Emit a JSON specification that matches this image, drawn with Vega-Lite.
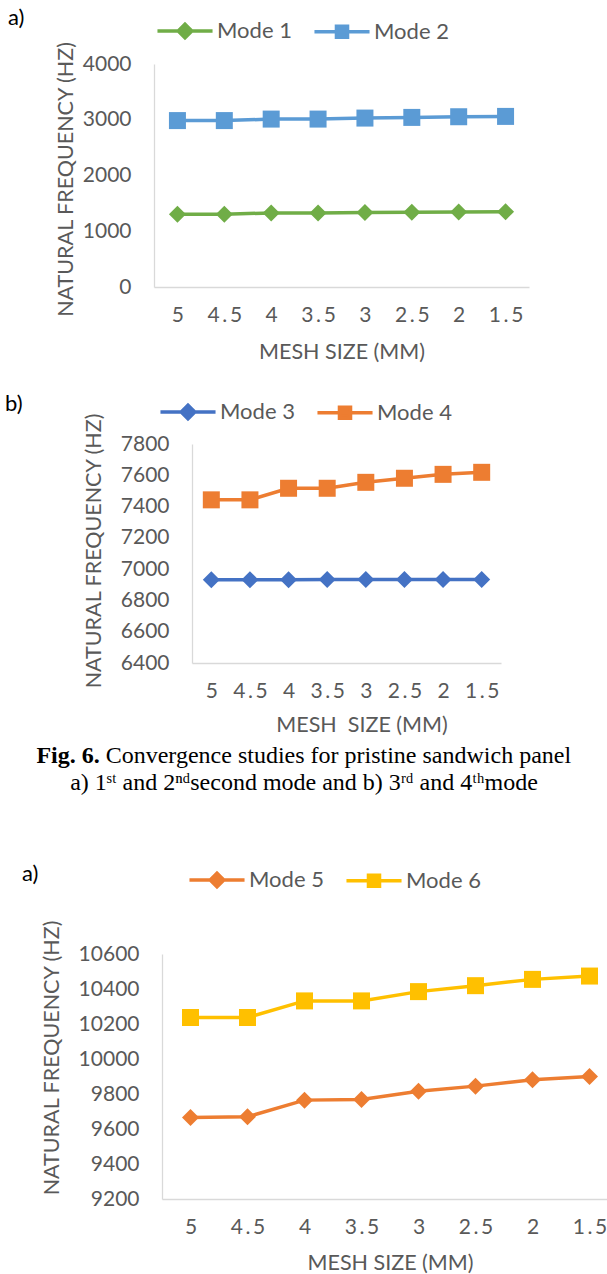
{
  "$schema": "https://vega.github.io/schema/vega-lite/v6.json",
  "padding": {"left": 4, "top": 7, "right": 0, "bottom": 0},
  "datasets": {
    "a": [
      {"mesh": "5", "mode": "Mode 1", "freq": 1305}, {"mesh": "4.5", "mode": "Mode 1", "freq": 1305},
      {"mesh": "4", "mode": "Mode 1", "freq": 1329}, {"mesh": "3.5", "mode": "Mode 1", "freq": 1329},
      {"mesh": "3", "mode": "Mode 1", "freq": 1335}, {"mesh": "2.5", "mode": "Mode 1", "freq": 1341},
      {"mesh": "2", "mode": "Mode 1", "freq": 1347}, {"mesh": "1.5", "mode": "Mode 1", "freq": 1350},
      {"mesh": "5", "mode": "Mode 2", "freq": 2985}, {"mesh": "4.5", "mode": "Mode 2", "freq": 2985},
      {"mesh": "4", "mode": "Mode 2", "freq": 3012}, {"mesh": "3.5", "mode": "Mode 2", "freq": 3012},
      {"mesh": "3", "mode": "Mode 2", "freq": 3030}, {"mesh": "2.5", "mode": "Mode 2", "freq": 3042},
      {"mesh": "2", "mode": "Mode 2", "freq": 3054}, {"mesh": "1.5", "mode": "Mode 2", "freq": 3060}
    ],
    "b": [
      {"mesh": "5", "mode": "Mode 3", "freq": 6932}, {"mesh": "4.5", "mode": "Mode 3", "freq": 6932},
      {"mesh": "4", "mode": "Mode 3", "freq": 6932}, {"mesh": "3.5", "mode": "Mode 3", "freq": 6933},
      {"mesh": "3", "mode": "Mode 3", "freq": 6933}, {"mesh": "2.5", "mode": "Mode 3", "freq": 6933},
      {"mesh": "2", "mode": "Mode 3", "freq": 6933}, {"mesh": "1.5", "mode": "Mode 3", "freq": 6933},
      {"mesh": "5", "mode": "Mode 4", "freq": 7443}, {"mesh": "4.5", "mode": "Mode 4", "freq": 7443},
      {"mesh": "4", "mode": "Mode 4", "freq": 7517}, {"mesh": "3.5", "mode": "Mode 4", "freq": 7517},
      {"mesh": "3", "mode": "Mode 4", "freq": 7555}, {"mesh": "2.5", "mode": "Mode 4", "freq": 7581},
      {"mesh": "2", "mode": "Mode 4", "freq": 7606}, {"mesh": "1.5", "mode": "Mode 4", "freq": 7619}
    ],
    "c": [
      {"mesh": "5", "mode": "Mode 5", "freq": 9666}, {"mesh": "4.5", "mode": "Mode 5", "freq": 9670},
      {"mesh": "4", "mode": "Mode 5", "freq": 9765}, {"mesh": "3.5", "mode": "Mode 5", "freq": 9769},
      {"mesh": "3", "mode": "Mode 5", "freq": 9816}, {"mesh": "2.5", "mode": "Mode 5", "freq": 9845},
      {"mesh": "2", "mode": "Mode 5", "freq": 9881}, {"mesh": "1.5", "mode": "Mode 5", "freq": 9900},
      {"mesh": "5", "mode": "Mode 6", "freq": 10237}, {"mesh": "4.5", "mode": "Mode 6", "freq": 10237},
      {"mesh": "4", "mode": "Mode 6", "freq": 10332}, {"mesh": "3.5", "mode": "Mode 6", "freq": 10332},
      {"mesh": "3", "mode": "Mode 6", "freq": 10385}, {"mesh": "2.5", "mode": "Mode 6", "freq": 10419},
      {"mesh": "2", "mode": "Mode 6", "freq": 10455}, {"mesh": "1.5", "mode": "Mode 6", "freq": 10474}
    ],
    "caption": [
      {"line": "1", "part": "fig", "text": "Fig. 6."},
      {"line": "1", "part": "body", "text": "Convergence studies for pristine sandwich panel"},
      {"line": "2", "part": "sub", "text": "a) 1\u02e2\u1d57 and 2\u207f\u1d48second mode and b) 3\u02b3\u1d48 and 4\u1d57\u02b0mode"}
    ]
  },
  "concat": [
    {
      "concat": [
        {
          "hconcat": [
            {"width": 4, "height": 1, "data": {"values": []}, "mark": {"type": "point", "opacity": 0}},
            {
              "width": 375, "height": 223,
              "data": {"name": "a"},
              "title": {"text": "a)", "dx": -146, "offset": -10},
              "encoding": {
                "x": {"field": "mesh", "type": "ordinal", "sort": ["5", "4.5", "4", "3.5", "3", "2.5", "2", "1.5"], "scale": {"type": "point", "padding": 0.5},
                      "axis": {"title": "MESH SIZE (MM)", "labelExpr": "replace(datum.label, '.', '\u2009.\u2009')"}},
                "y": {"field": "freq", "type": "quantitative", "scale": {"domain": [0, 4000], "nice": false, "zero": false},
                      "axis": {"values": [0, 1000, 2000, 3000, 4000], "format": "d", "title": "NATURAL FREQUENCY (HZ)", "titlePadding": 5, "titleY": 115}},
                "color": {"field": "mode", "type": "nominal", "scale": {"domain": ["Mode 1", "Mode 2"], "range": ["#70ad47", "#5b9bd5"]},
                          "legend": {"title": null, "legendX": 20, "legendY": -44,
                            "encode": {"symbols": {"update": {
                              "shape": {"signal": "indexof(['Mode 1','Mode 3','Mode 5'], datum.value) >= 0 ? 'M-3.24,0H3.24M0,-0.8L0.8,0L0,0.8L-0.8,0Z' : 'M-3.24,0H3.24M-0.65,-0.65H0.65V0.65H-0.65Z'"},
                              "fill": {"signal": "datum.value === 'Mode 1' ? '#70ad47' : datum.value === 'Mode 2' ? '#5b9bd5' : datum.value === 'Mode 3' ? '#4472c4' : datum.value === 'Mode 4' ? '#ed7d31' : datum.value === 'Mode 5' ? '#ed7d31' : '#ffc000'"},
                              "stroke": {"signal": "datum.value === 'Mode 1' ? '#70ad47' : datum.value === 'Mode 2' ? '#5b9bd5' : datum.value === 'Mode 3' ? '#4472c4' : datum.value === 'Mode 4' ? '#ed7d31' : datum.value === 'Mode 5' ? '#ed7d31' : '#ffc000'"},
                              "strokeWidth": {"value": 3.5}, "opacity": {"value": 1}, "fillOpacity": {"value": 1}, "strokeOpacity": {"value": 1}}}}}}
              },
              "layer": [
                {"mark": {"type": "line", "strokeWidth": 3.5}},
                {"transform": [{"filter": "datum.mode === 'Mode 1'"}], "mark": {"type": "point", "shape": "diamond", "filled": true, "size": 289, "opacity": 1}},
                {"transform": [{"filter": "datum.mode === 'Mode 2'"}], "mark": {"type": "point", "shape": "square", "filled": true, "size": 289, "opacity": 1}}
              ]
            }
          ],
          "spacing": 0,
          "resolve": {"scale": {"color": "independent", "x": "independent", "y": "independent"}, "legend": {"color": "independent"}}
        },
        {
          "hconcat": [
            {"width": 1, "height": 1, "data": {"values": []}, "mark": {"type": "point", "opacity": 0}},
            {
              "width": 309, "height": 219,
              "data": {"name": "b"},
              "title": {"text": "b)", "dx": -187, "offset": -15},
              "encoding": {
                "x": {"field": "mesh", "type": "ordinal", "sort": ["5", "4.5", "4", "3.5", "3", "2.5", "2", "1.5"], "scale": {"type": "point", "padding": 0.5},
                      "axis": {"title": "MESH\u00a0 SIZE (MM)", "titleX": 169.5, "titlePadding": 13, "labelExpr": "replace(datum.label, '.', '\u2009.\u2009')"}},
                "y": {"field": "freq", "type": "quantitative", "scale": {"domain": [6400, 7800], "nice": false, "zero": false},
                      "axis": {"values": [6400, 6600, 6800, 7000, 7200, 7400, 7600, 7800], "format": "d", "title": "NATURAL FREQUENCY (HZ)", "titlePadding": 15, "titleY": 106.5}},
                "color": {"field": "mode", "type": "nominal", "scale": {"domain": ["Mode 3", "Mode 4"], "range": ["#4472c4", "#ed7d31"]},
                          "legend": {"title": null, "legendX": -15, "legendY": -43,
                            "encode": {"symbols": {"update": {
                              "shape": {"signal": "indexof(['Mode 1','Mode 3','Mode 5'], datum.value) >= 0 ? 'M-3.24,0H3.24M0,-0.8L0.8,0L0,0.8L-0.8,0Z' : 'M-3.24,0H3.24M-0.65,-0.65H0.65V0.65H-0.65Z'"},
                              "fill": {"signal": "datum.value === 'Mode 1' ? '#70ad47' : datum.value === 'Mode 2' ? '#5b9bd5' : datum.value === 'Mode 3' ? '#4472c4' : datum.value === 'Mode 4' ? '#ed7d31' : datum.value === 'Mode 5' ? '#ed7d31' : '#ffc000'"},
                              "stroke": {"signal": "datum.value === 'Mode 1' ? '#70ad47' : datum.value === 'Mode 2' ? '#5b9bd5' : datum.value === 'Mode 3' ? '#4472c4' : datum.value === 'Mode 4' ? '#ed7d31' : datum.value === 'Mode 5' ? '#ed7d31' : '#ffc000'"},
                              "strokeWidth": {"value": 3.5}, "opacity": {"value": 1}, "fillOpacity": {"value": 1}, "strokeOpacity": {"value": 1}}}}}}
              },
              "layer": [
                {"mark": {"type": "line", "strokeWidth": 3.5}},
                {"transform": [{"filter": "datum.mode === 'Mode 3'"}], "mark": {"type": "point", "shape": "diamond", "filled": true, "size": 289, "opacity": 1}},
                {"transform": [{"filter": "datum.mode === 'Mode 4'"}], "mark": {"type": "point", "shape": "square", "filled": true, "size": 289, "opacity": 1}}
              ]
            }
          ],
          "spacing": 0,
          "resolve": {"scale": {"color": "independent", "x": "independent", "y": "independent"}, "legend": {"color": "independent"}}
        }
      ],
      "columns": 1, "spacing": 30,
      "resolve": {"scale": {"color": "independent", "x": "independent", "y": "independent"}, "legend": {"color": "independent"}}
    },
    {
      "concat": [
        {
          "width": 600, "height": 54,
          "data": {"name": "caption"},
          "encoding": {
            "y": {"field": "line", "type": "ordinal", "axis": null},
            "text": {"field": "text"}
          },
          "layer": [
            {"transform": [{"filter": "datum.part === 'fig'"}],
             "mark": {"type": "text", "font": "Liberation Serif", "fontSize": 24, "fontWeight": "bold", "color": "#000000", "align": "left", "dx": -267.6}},
            {"transform": [{"filter": "datum.part === 'body'"}],
             "mark": {"type": "text", "font": "Liberation Serif", "fontSize": 24, "color": "#000000", "align": "left", "dx": -198.3}},
            {"transform": [{"filter": "datum.part === 'sub'"}],
             "mark": {"type": "text", "font": "Liberation Serif", "fontSize": 24, "color": "#000000", "align": "center"}}
          ]
        },
        {
          "hconcat": [
            {"width": 18, "height": 1, "data": {"values": []}, "mark": {"type": "point", "opacity": 0}},
            {
              "width": 456, "height": 245,
              "data": {"name": "c"},
              "title": {"text": "a)", "dx": -140, "offset": -17},
              "encoding": {
                "x": {"field": "mesh", "type": "ordinal", "sort": ["5", "4.5", "4", "3.5", "3", "2.5", "2", "1.5"], "scale": {"type": "point", "padding": 0.5},
                      "axis": {"title": "MESH SIZE (MM)", "titlePadding": 15, "labelExpr": "replace(datum.label, '.', '\u2009.\u2009')"}},
                "y": {"field": "freq", "type": "quantitative", "scale": {"domain": [9200, 10600], "nice": false, "zero": false},
                      "axis": {"values": [9200, 9400, 9600, 9800, 10000, 10200, 10400, 10600], "format": "d", "title": "NATURAL FREQUENCY (HZ)", "titlePadding": 15, "titleY": 103.5}},
                "color": {"field": "mode", "type": "nominal", "scale": {"domain": ["Mode 5", "Mode 6"], "range": ["#ed7d31", "#ffc000"]},
                          "legend": {"title": null, "legendX": 44, "legendY": -85,
                            "encode": {"symbols": {"update": {
                              "shape": {"signal": "indexof(['Mode 1','Mode 3','Mode 5'], datum.value) >= 0 ? 'M-3.24,0H3.24M0,-0.8L0.8,0L0,0.8L-0.8,0Z' : 'M-3.24,0H3.24M-0.65,-0.65H0.65V0.65H-0.65Z'"},
                              "fill": {"signal": "datum.value === 'Mode 1' ? '#70ad47' : datum.value === 'Mode 2' ? '#5b9bd5' : datum.value === 'Mode 3' ? '#4472c4' : datum.value === 'Mode 4' ? '#ed7d31' : datum.value === 'Mode 5' ? '#ed7d31' : '#ffc000'"},
                              "stroke": {"signal": "datum.value === 'Mode 1' ? '#70ad47' : datum.value === 'Mode 2' ? '#5b9bd5' : datum.value === 'Mode 3' ? '#4472c4' : datum.value === 'Mode 4' ? '#ed7d31' : datum.value === 'Mode 5' ? '#ed7d31' : '#ffc000'"},
                              "strokeWidth": {"value": 3.5}, "opacity": {"value": 1}, "fillOpacity": {"value": 1}, "strokeOpacity": {"value": 1}}}}}}
              },
              "layer": [
                {"mark": {"type": "line", "strokeWidth": 3.5}},
                {"transform": [{"filter": "datum.mode === 'Mode 5'"}], "mark": {"type": "point", "shape": "diamond", "filled": true, "size": 289, "opacity": 1}},
                {"transform": [{"filter": "datum.mode === 'Mode 6'"}], "mark": {"type": "point", "shape": "square", "filled": true, "size": 289, "opacity": 1}}
              ]
            }
          ],
          "spacing": 0,
          "resolve": {"scale": {"color": "independent", "x": "independent", "y": "independent"}, "legend": {"color": "independent"}}
        }
      ],
      "columns": 1, "spacing": 67,
      "resolve": {"scale": {"color": "independent", "x": "independent", "y": "independent"}, "legend": {"color": "independent"}}
    }
  ],
  "columns": 1, "spacing": 6,
  "resolve": {"scale": {"color": "independent", "x": "independent", "y": "independent"}, "legend": {"color": "independent"}},
  "config": {
    "view": {"stroke": null},
    "axis": {"labelFont": "Lato", "labelFontSize": 21, "labelColor": "#595959", "titleFont": "Lato", "titleFontSize": 21.5, "titleColor": "#595959", "titleFontWeight": "normal",
             "domainColor": "#d9d9d9", "domainWidth": 1.3, "ticks": false, "tickSize": 0, "grid": false},
    "axisX": {"labelPadding": 17, "titlePadding": 16, "labelAngle": 0},
    "axisY": {"labelPadding": 23},
    "legend": {"orient": "none", "direction": "horizontal", "symbolSize": 289, "labelOffset": 21, "columnPadding": 15, "labelFontSize": 22, "labelFont": "Lato", "labelColor": "#595959", "symbolStrokeWidth": 3.5, "padding": 0},
    "title": {"font": "Lato", "fontSize": 22, "fontWeight": "normal", "color": "#000000", "anchor": "start", "frame": "group"}
  }
}
